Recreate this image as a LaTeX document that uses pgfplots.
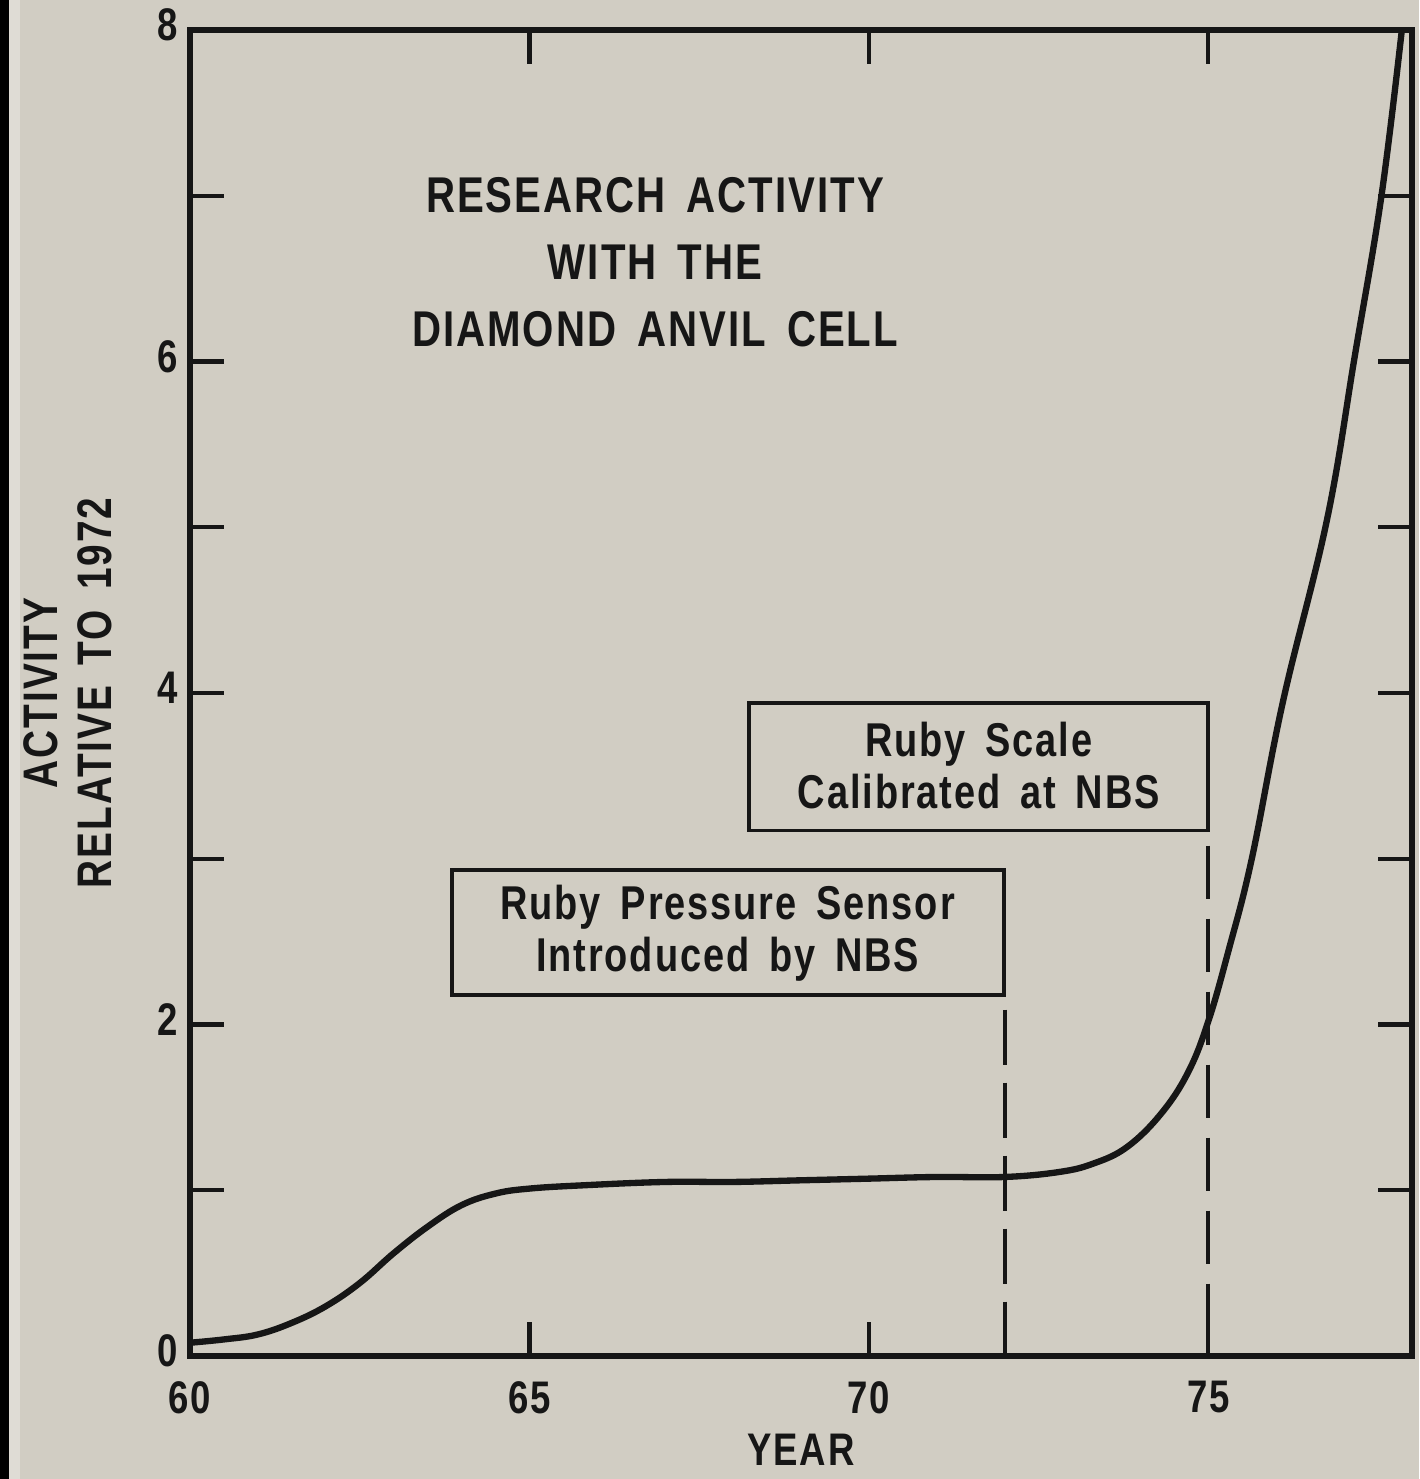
\documentclass[border=0pt]{standalone}
\usepackage{fontspec}
\setmainfont{Liberation Sans}[FakeStretch=0.8, LetterSpace=4, WordSpace=1.6]
\usepackage{pgfplots}
\pgfplotsset{compat=1.18}
\usetikzlibrary{backgrounds}
\definecolor{paper}{RGB}{209,205,195}
\definecolor{ink}{RGB}{22,22,22}

\begin{document}
\begin{tikzpicture}
\begin{axis}[
  scale only axis, width=12.22cm, height=13.26cm,
  xmin=60, xmax=78, ymin=0, ymax=8,
  xtick={60,65,70,75}, ytick={0,2,4,6,8}, minor ytick={1,3,5,7},
  tick align=inside,
  major tick length=0.34cm, minor tick length=0.34cm,
  axis line style={line width=1.6pt, ink},
  every tick/.append style={line width=1.2pt, ink},
  /pgf/number format/assume math mode=true,
  tick label style={font=\fontsize{13}{15}\selectfont\bfseries, text=ink},
  xticklabel style={yshift=-0.13cm},
  yticklabel style={yshift=0.05cm},
  xlabel={YEAR},
  xlabel style={at={(axis description cs:0.5,-0.0709)}, anchor=center,
    font=\fontsize{13}{15}\selectfont\bfseries, text=ink},
  ylabel={ACTIVITY\\RELATIVE TO 1972},
  ylabel style={at={(axis description cs:-0.1,0.5)}, anchor=center, align=center,
    font=\fontsize{13.8}{15.4}\selectfont\bfseries, text=ink},
  clip=false,
]
% activity curve
\addplot[ink, line width=1.8pt, smooth, tension=0.65] coordinates {
  (60,0.08) (60.5,0.10) (61,0.13) (61.5,0.20) (62,0.30) (62.5,0.44)
  (63,0.62) (63.5,0.78) (64,0.91) (64.5,0.98) (65,1.01) (65.8,1.03)
  (67,1.05) (68,1.05) (69,1.06) (70,1.07) (71,1.08) (72,1.08)
  (72.8,1.11) (73.3,1.16) (73.8,1.26) (74.3,1.46) (74.7,1.71)
  (75.0,2.02) (75.3,2.45) (75.64,3.0) (76.1,3.95) (76.75,5.05)
  (77.16,6.04) (77.55,7.0) (77.85,8.0)
};
% markers for the two NBS events
\draw[ink, line width=1.1pt, dash pattern=on 0.55cm off 0.18cm, dash phase=0.58cm]
  (axis cs:72,2.18) -- (axis cs:72,0);
\draw[ink, line width=1.1pt, dash pattern=on 0.53cm off 0.2cm, dash phase=0.58cm]
  (axis cs:75,3.17) -- (axis cs:75,0);
\draw[ink, line width=1.1pt] (axis cs:68.23,3.17) rectangle (axis cs:75.0,3.94);
\draw[ink, line width=1.1pt] (axis cs:63.86,2.18) rectangle (axis cs:71.99,2.93);
\node[align=center, text=ink, font=\fontsize{13.5}{14.8}\selectfont\bfseries]
  at (axis cs:71.62,3.56) {Ruby Scale\\Calibrated at NBS};
\node[align=center, text=ink, font=\fontsize{13.5}{14.8}\selectfont\bfseries]
  at (axis cs:67.92,2.55) {Ruby Pressure Sensor\\Introduced by NBS};
\node[align=center, text=ink, font=\fontsize{14.3}{19}\selectfont\bfseries]
  at (axis cs:66.85,6.6) {RESEARCH ACTIVITY\\WITH THE\\DIAMOND ANVIL CELL};
\end{axis}
\begin{scope}[on background layer]
  \fill[paper] (-1.90,-1.23) rectangle (12.29,13.56);
  \fill[black] (-1.90,-1.23) rectangle (-1.81,13.56);
  \fill[paper!70!white] (-1.81,-1.23) rectangle (-1.70,13.56);
\end{scope}
\pgfresetboundingbox
\path (-1.90,-1.23) rectangle (12.29,13.56);
\end{tikzpicture}
\end{document}
